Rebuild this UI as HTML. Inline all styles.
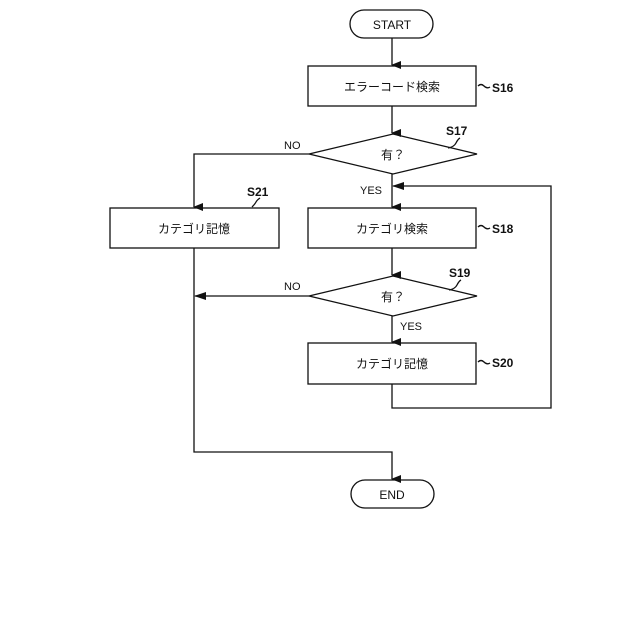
<!DOCTYPE html>
<html><head><meta charset="utf-8"><style>
html,body{margin:0;padding:0;background:#fff;}
svg{display:block;}
text{font-family:"Liberation Sans","Noto Sans CJK JP",sans-serif;fill:#111;}
</style></head><body>
<svg width="640" height="640" viewBox="0 0 640 640" xmlns="http://www.w3.org/2000/svg">
<defs><marker id="a" markerWidth="8" markerHeight="10" refX="4" refY="9" orient="auto-start-reverse" markerUnits="userSpaceOnUse"><path d="M0,0 L8,0 L4,10 Z" fill="#111"/></marker>
<marker id="h" markerWidth="12" markerHeight="8" refX="11" refY="4" orient="auto" markerUnits="userSpaceOnUse"><path d="M0,0 L12,4 L0,8 Z" fill="#111"/></marker></defs>
<g fill="none" stroke="#111" stroke-width="1.3">
<rect x="350" y="10" width="83" height="28" rx="14"/>
<rect x="308" y="66" width="168" height="40"/>
<polygon points="309,154 393,134 477,154 393,174"/>
<rect x="110" y="208" width="169" height="40"/>
<rect x="308" y="208" width="168" height="40"/>
<polygon points="309,296 393,276 477,296 393,316"/>
<rect x="308" y="343" width="168" height="41"/>
<rect x="351" y="480" width="83" height="28" rx="14"/>
<line x1="392" y1="38" x2="392" y2="65" marker-end="url(#a)"/>
<line x1="392" y1="106" x2="392" y2="133" marker-end="url(#a)"/>
<polyline points="309,154 194,154 194,207" marker-end="url(#a)"/>
<line x1="392" y1="174" x2="392" y2="207" marker-end="url(#a)"/>
<polyline points="392,384 392,408 551,408 551,186 393,186" marker-end="url(#h)"/>
<line x1="392" y1="248" x2="392" y2="275" marker-end="url(#a)"/>
<line x1="309" y1="296" x2="195" y2="296" marker-end="url(#h)"/>
<line x1="392" y1="316" x2="392" y2="342" marker-end="url(#a)"/>
<polyline points="194,248 194,452 392,452 392,479" marker-end="url(#a)"/>
<path d="M478,86 q3,-3 6,0 t6,1" />
<path d="M448,148 q6,-1 8,-5 t4,-5" />
<path d="M252,207 q3,-3 4,-5 t4,-4" />
<path d="M478,227 q3,-3 6,0 t6,1" />
<path d="M449,290 q6,-1 8,-5 t4,-5" />
<path d="M478,362 q3,-3 6,0 t6,1" />
</g>
<g font-size="12" text-anchor="middle">
<text x="392" y="29">START</text>
<text x="392" y="91">エラーコード検索</text>
<text x="393" y="159">有？</text>
<text x="194" y="233">カテゴリ記憶</text>
<text x="392" y="233">カテゴリ検索</text>
<text x="393" y="301">有？</text>
<text x="392" y="368">カテゴリ記憶</text>
<text x="392" y="499">END</text>
</g>
<g font-size="12" font-weight="bold">
<text x="492" y="92">S16</text>
<text x="446" y="135">S17</text>
<text x="247" y="196">S21</text>
<text x="492" y="233">S18</text>
<text x="449" y="277">S19</text>
<text x="492" y="367">S20</text>
</g>
<g font-size="11">
<text x="284" y="149">NO</text>
<text x="360" y="194">YES</text>
<text x="284" y="290">NO</text>
<text x="400" y="330">YES</text>
</g>
</svg>
</body></html>
